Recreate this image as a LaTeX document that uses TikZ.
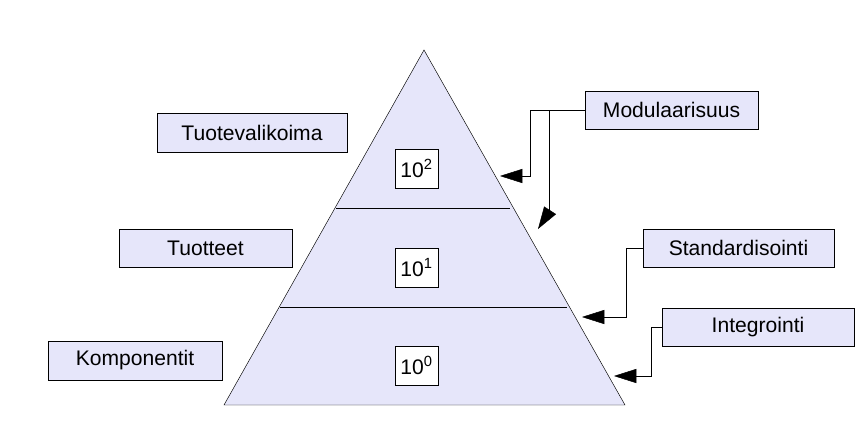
\documentclass[tikz,border=0pt]{standalone}
\usepackage{fontspec}
\setmainfont{Liberation Sans}
\usetikzlibrary{arrows.meta}
\definecolor{lav}{RGB}{230,230,250}

\begin{document}
\begin{tikzpicture}[x=0.03cm,y=-0.03cm,
  label box/.style={draw,fill=lav,inner sep=0pt,font=\fontsize{18}{21}\selectfont},
  level box/.style={draw,fill=white,minimum width=43*0.03cm,minimum height=39*0.03cm,inner sep=0pt,font=\fontsize{18}{21}\selectfont},
  pointer/.style={-{Triangle[length=19pt,width=12pt]}}]
\useasboundingbox (0,0) rectangle (868,436);

% Pyramid and its layers
\coordinate (apex) at (424,50);
\coordinate (bl) at (224,405);
\coordinate (br) at (625,405);
\filldraw[fill=lav] (apex) -- (br) -- (bl) -- cycle;
\draw (336,208) -- (510,208);
\draw (280,307) -- (567,307);

% Level boxes
\node[level box] (lvtwo) at (416.5,168.5) {10\textsuperscript{2}};
\node[level box] (lvone) at (416.5,267.5) {10\textsuperscript{1}};
\node[level box] (lvzero) at (416.5,365.5) {10\textsuperscript{0}};

% Left labels
\node[label box,minimum width=190*0.03cm,minimum height=39*0.03cm] (valikoima) at (252,132.5) {Tuotevalikoima};
\node[label box,minimum width=173*0.03cm,minimum height=38*0.03cm] (tuotteet) at (205.5,248) {Tuotteet};
\node[label box,minimum width=174*0.03cm,minimum height=39*0.03cm] (komp) at (135,360.5) {Komponentit};

% Right labels
\node[label box,minimum width=173*0.03cm,minimum height=38*0.03cm] (modul) at (671.5,110) {Modulaarisuus};
\node[label box,minimum width=191*0.03cm,minimum height=38*0.03cm] (stand) at (738.5,248) {Standardisointi};
\node[label box,minimum width=192*0.03cm,minimum height=38*0.03cm] (integ) at (758,327) {Integrointi};

% Connectors
\coordinate (mtip) at (500,176);
\coordinate (mtiptwo) at (538,229);
\coordinate (stip) at (582,317);
\coordinate (itip) at (614,376);
\draw[pointer] (modul.west) -- (530,110) -- (530,176) -- (mtip);
\draw (549,110) -- (549,214);
\draw[pointer] (549,212) -- (mtiptwo);
\draw[pointer] (stand.west) -- (626,248) -- (626,317) -- (stip);
\draw[pointer] (integ.west) -- (651,327) -- (651,376) -- (itip);
\end{tikzpicture}
\end{document}
